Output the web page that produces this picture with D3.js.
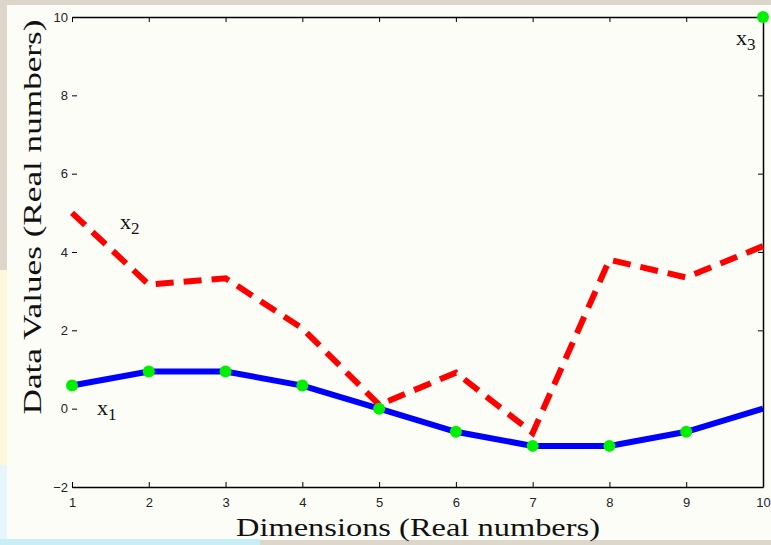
<!DOCTYPE html>
<meta charset="utf-8">
<style>
  body { margin: 0; background: #ddd6cb; }
  .tick text { font: 13px "Liberation Sans", sans-serif; fill: #222; }
  .title { font-family: "Liberation Serif", serif; fill: #111; }
</style>
<body>
<script src="https://d3js.org/d3.v7.min.js"></script>
<script>

// data
const dims = [1, 2, 3, 4, 5, 6, 7, 8, 9, 10];
const x1 = [0.59, 0.95, 0.95, 0.59, 0, -0.59, -0.95, -0.95, -0.59, 0];
const x2 = [5.0, 3.17, 3.33, 2.05, 0.1, 0.92, -0.62, 3.8, 3.35, 4.15];
const x3 = [{d: 10, v: 10}];
const xTicks = [1, 2, 3, 4, 5, 6, 7, 8, 9, 10];
const yTicks = [-2, 0, 2, 4, 6, 8, 10];

const W = 771, H = 545;
const margin = {top: 17, right: 8, bottom: 58, left: 72},
    width = W - margin.left - margin.right,
    height = H - margin.top - margin.bottom;

const svg = d3.select("body").append("svg")
    .attr("width", W)
    .attr("height", H);

// page background: white panel with a coloured left margin
svg.append("rect").attr("x", 0).attr("y", 0).attr("width", W).attr("height", H).attr("fill", "#ddd6cb");
svg.append("rect").attr("x", 0).attr("y", 270).attr("width", 8).attr("height", 195).attr("fill", "#fbf8dc");
svg.append("rect").attr("x", 0).attr("y", 465).attr("width", 8).attr("height", 80).attr("fill", "#e6f6fb");
svg.append("rect").attr("x", 7).attr("y", 5).attr("width", W - 7).attr("height", 535).attr("fill", "#fdfdf8");
svg.append("rect").attr("x", 0).attr("y", 539).attr("width", 260).attr("height", 6).attr("fill", "#c9eef8");

const g = svg.append("g")
    .attr("transform", "translate(" + margin.left + "," + margin.top + ")");

const x = d3.scaleLinear().domain([1, 10]).range([0, width]);
const y = d3.scaleLinear().domain([-2, 10]).range([height, 0]);

// axes (bottom, top, right, left ticks only)
g.append("g")
    .attr("transform", "translate(0," + height + ")")
    .call(d3.axisBottom(x).tickValues(xTicks).tickSizeInner(-5).tickSizeOuter(0).tickPadding(11))
    .call(a => a.select(".domain").attr("stroke-width", 1.5));

g.append("g")
    .call(d3.axisTop(x).tickValues(xTicks).tickSizeInner(-5).tickSizeOuter(0).tickFormat(""))
    .call(a => a.select(".domain").attr("stroke-width", 1.5));

g.append("g")
    .attr("transform", "translate(" + width + ",0)")
    .call(d3.axisRight(y).tickValues(yTicks).tickSizeInner(-5).tickSizeOuter(0).tickFormat(""))
    .call(a => a.select(".domain").attr("stroke-width", 1.5));

g.append("g")
    .call(d3.axisLeft(y).tickValues(yTicks).tickSizeInner(-5).tickSizeOuter(0).tickPadding(4))
    .call(a => a.select(".domain").remove());

// lines
const line = d3.line()
    .x((d, i) => x(dims[i]))
    .y(d => y(d));

g.append("path")
    .datum(x2)
    .attr("fill", "none")
    .attr("stroke", "#ff0000")
    .attr("stroke-width", 6)
    .attr("stroke-dasharray", "18,10")
    .attr("d", line);

g.append("path")
    .datum(x1)
    .attr("fill", "none")
    .attr("stroke", "#0000ff")
    .attr("stroke-width", 6)
    .attr("d", line);

// green markers on x1 (first nine) and the x3 point
g.selectAll(".dot")
    .data(x1.slice(0, 9))
  .enter().append("circle")
    .attr("class", "dot")
    .attr("cx", (d, i) => x(dims[i]))
    .attr("cy", d => y(d))
    .attr("r", 6)
    .attr("fill", "#00f000");

g.selectAll(".dot3")
    .data(x3)
  .enter().append("circle")
    .attr("class", "dot3")
    .attr("cx", d => x(d.d))
    .attr("cy", d => y(d.v))
    .attr("r", 6)
    .attr("fill", "#00f000");

// series labels
function seriesLabel(px, py, sub) {
  const t = g.append("text").attr("class", "title")
      .attr("x", px).attr("y", py)
      .style("font-size", "22px");
  t.append("tspan").text("x");
  t.append("tspan").attr("dy", 5).style("font-size", "17px").text(sub);
}
seriesLabel(x(1) + 48, y(4.6), "2");
seriesLabel(x(1) + 25, y(0) + 6, "1");
seriesLabel(x(10) - 27, y(10) + 28, "3");

// axis titles
svg.append("text").attr("class", "title")
    .attr("x", 418).attr("y", 536)
    .attr("text-anchor", "middle")
    .attr("textLength", 364)
    .attr("lengthAdjust", "spacingAndGlyphs")
    .style("font-size", "25px")
    .text("Dimensions (Real numbers)");

svg.append("text").attr("class", "title")
    .attr("transform", "translate(41,217) rotate(-90)")
    .attr("text-anchor", "middle")
    .attr("textLength", 395)
    .attr("lengthAdjust", "spacingAndGlyphs")
    .style("font-size", "26px")
    .text("Data Values (Real numbers)");

</script>
</body>
